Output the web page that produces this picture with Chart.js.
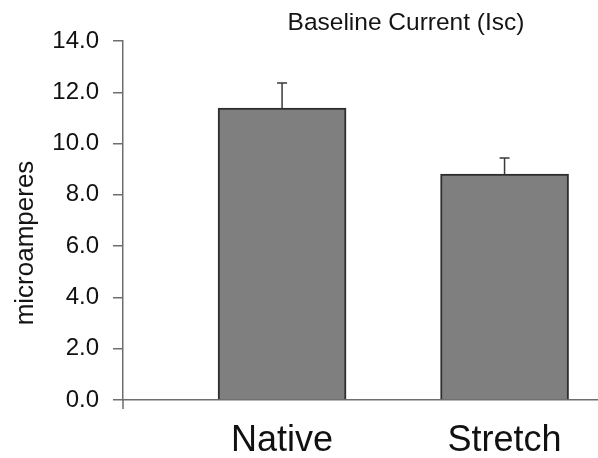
<!DOCTYPE html>
<html>
<head>
<meta charset="utf-8">
<script src="https://cdn.jsdelivr.net/npm/chart.js@4/dist/chart.umd.min.js"></script>
<style>
  html, body { margin: 0; padding: 0; background: #fff; }
  #wrap { width: 598px; height: 458px; }
</style>
</head>
<body>
<div id="wrap"><canvas id="myChart" width="598" height="458"></canvas></div>
<script>
const categories = ['Native', 'Stretch'];
const means = [11.38, 8.81];
const sem = [0.98, 0.63];
const yTicks = [0, 2, 4, 6, 8, 10, 12, 14];

const FONT = "'Liberation Sans', Arial, sans-serif";
const AXIS_GREY = '#6e6e6e';

// title, y axis label and error bars
const extras = {
  id: 'extras',
  afterDatasetsDraw(chart) {
    const ctx = chart.ctx;
    const y = chart.scales.y;
    const area = chart.chartArea;
    ctx.save();
    ctx.strokeStyle = '#3a3a3a';
    ctx.lineWidth = 1.5;
    chart.getDatasetMeta(0).data.forEach((bar, i) => {
      const top = y.getPixelForValue(means[i] + sem[i]);
      ctx.beginPath();
      ctx.moveTo(bar.x, bar.y);
      ctx.lineTo(bar.x, top);
      ctx.moveTo(bar.x - 5, top);
      ctx.lineTo(bar.x + 5, top);
      ctx.stroke();
    });
    // y axis runs a little below zero
    ctx.strokeStyle = AXIS_GREY;
    ctx.beginPath();
    ctx.moveTo(area.left, area.bottom);
    ctx.lineTo(area.left, area.bottom + 9);
    ctx.stroke();
    ctx.restore();
  },
  afterDraw(chart) {
    const ctx = chart.ctx;
    ctx.save();
    ctx.fillStyle = '#141414';
    ctx.font = '24.5px ' + FONT;
    ctx.textAlign = 'center';
    ctx.textBaseline = 'alphabetic';
    ctx.fillText('Baseline Current (Isc)', 406, 30);
    ctx.translate(33, 243);
    ctx.rotate(-Math.PI / 2);
    ctx.font = '26px ' + FONT;
    ctx.fillText('microamperes', 0, 0);
    ctx.restore();
  }
};

new Chart(document.getElementById('myChart'), {
  type: 'bar',
  data: {
    datasets: [{
      data: categories.map((c, i) => ({ x: i + 1, y: means[i] })),
      backgroundColor: '#7f7f7f',
      borderColor: '#2e2e2e',
      borderWidth: 2,
      barThickness: 128
    }]
  },
  options: {
    responsive: false,
    animation: false,
    devicePixelRatio: 1,
    layout: { padding: { top: 41, right: 0, bottom: 0, left: 0 } },
    plugins: { legend: { display: false }, tooltip: { enabled: false } },
    scales: {
      x: {
        type: 'linear',
        offset: false,
        min: 0.285,
        max: 2.42,
        afterFit: (s) => { s.height = 58; },
        afterBuildTicks: (s) => { s.ticks = categories.map((c, i) => ({ value: i + 1 })); },
        grid: { display: false },
        border: { display: true, color: AXIS_GREY, width: 1.5 },
        ticks: {
          padding: 11,
          color: '#111',
          font: { family: FONT, size: 36 },
          callback: (v) => categories[v - 1]
        }
      },
      y: {
        min: 0,
        max: 14,
        afterFit: (s) => { s.width = 123; },
        afterBuildTicks: (s) => { s.ticks = yTicks.map(v => ({ value: v })); },
        grid: { drawOnChartArea: false, tickLength: 10, color: AXIS_GREY, lineWidth: 1.5 },
        border: { display: true, color: AXIS_GREY, width: 1.5 },
        ticks: {
          padding: 14,
          color: '#111',
          font: { family: FONT, size: 24 },
          callback: (v) => v.toFixed(1)
        }
      }
    }
  },
  plugins: [extras]
});
</script>
</body>
</html>
